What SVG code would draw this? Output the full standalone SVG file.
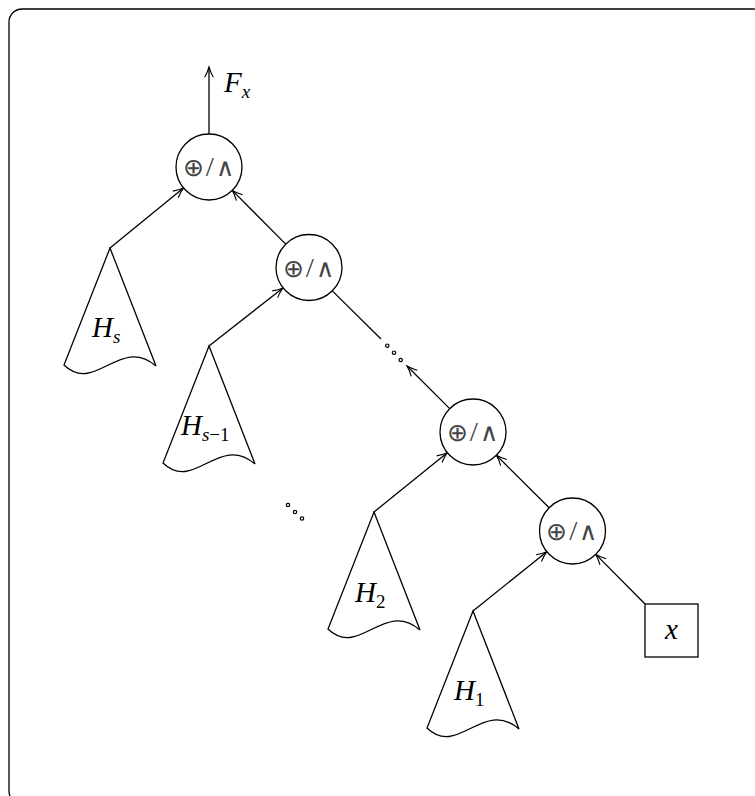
<svg xmlns="http://www.w3.org/2000/svg" xmlns:xlink="http://www.w3.org/1999/xlink" width="755" height="796" viewBox="0 0 755 796">
  <style>
    .ln { fill: none; stroke: #000; stroke-width: 1.3; }
    .op { fill: #fff; stroke: #000; stroke-width: 1.3; }
    .sym { font-family: "Noto Sans", "DejaVu Sans", sans-serif; font-weight: 300; font-size: 25px; fill: #444; text-anchor: middle; letter-spacing: 1.5px; }
    .lbl { font-family: "Liberation Serif", "DejaVu Serif", serif; font-style: italic; font-size: 29px; fill: #000; }
    .sub { font-size: 19px; }
    .up { font-style: normal; }
    .dot { fill: #fff; stroke: #000; stroke-width: 1.2; }
  </style>
  <defs>
    <marker id="arr" markerUnits="userSpaceOnUse" markerWidth="24" markerHeight="24" refX="0" refY="0" viewBox="-14 -12 28 24" orient="auto" overflow="visible">
      <path d="M -12 -5 Q -5.5 -1.5 0 0 Q -5.5 1.5 -12 5" fill="none" stroke="#000" stroke-width="1.3"/>
    </marker>
    <!-- subtree outline, apex at origin, wavy base -->
    <path id="tri" class="ln" d="M0,0 L46,118 C10,87 -15,147 -46,117 Z"/>
  </defs>

  <rect x="9" y="9" width="757" height="795" rx="13" fill="#fff" stroke="#000" stroke-width="1.3"/>

  <g id="connectors">
    <line class="ln" x1="209" y1="134" x2="209" y2="67" marker-end="url(#arr)"/>
    <line class="ln" x1="110" y1="248" x2="183.5" y2="187.9" marker-end="url(#arr)"/>
    <line class="ln" x1="285.7" y1="244.1" x2="232.3" y2="190.4" marker-end="url(#arr)"/>
    <line class="ln" x1="209" y1="346" x2="283" y2="287.9" marker-end="url(#arr)"/>
    <line class="ln" x1="332.3" y1="290.9" x2="381" y2="339"/>
    <line class="ln" x1="449.7" y1="408.6" x2="407" y2="366" marker-end="url(#arr)"/>
    <line class="ln" x1="374" y1="512" x2="447.3" y2="452.7" marker-end="url(#arr)"/>
    <line class="ln" x1="549.1" y1="507.7" x2="496.4" y2="455.3" marker-end="url(#arr)"/>
    <line class="ln" x1="473" y1="611" x2="546.8" y2="551.7" marker-end="url(#arr)"/>
    <line class="ln" x1="645" y1="604" x2="595.8" y2="554.4" marker-end="url(#arr)"/>
    <circle class="dot" cx="387.3" cy="345.7" r="1.7"/>
    <circle class="dot" cx="394" cy="352.7" r="1.7"/>
    <circle class="dot" cx="400.7" cy="360" r="1.7"/>
    <circle class="dot" cx="288" cy="505" r="1.7"/>
    <circle class="dot" cx="295" cy="512" r="1.7"/>
    <circle class="dot" cx="302" cy="518.5" r="1.7"/>
  </g>

  <text class="lbl" x="224" y="92">F<tspan class="sub" dy="6">x</tspan></text>

  <g id="op1">
    <circle class="op" cx="209" cy="167" r="33"/>
    <text class="sym" x="209" y="176">⊕/∧</text>
  </g>
  <g id="op2">
    <circle class="op" cx="309" cy="267.5" r="33"/>
    <text class="sym" x="309" y="276.5">⊕/∧</text>
  </g>
  <g id="op3">
    <circle class="op" cx="473" cy="432" r="33"/>
    <text class="sym" x="473" y="441">⊕/∧</text>
  </g>
  <g id="op4">
    <circle class="op" cx="572.5" cy="531" r="33"/>
    <text class="sym" x="572.5" y="540">⊕/∧</text>
  </g>

  <g id="Hs">
    <use xlink:href="#tri" x="110" y="248"/>
    <text class="lbl" x="92" y="337">H<tspan class="sub" dy="6">s</tspan></text>
  </g>
  <g id="Hs1">
    <use xlink:href="#tri" x="209" y="346"/>
    <text class="lbl" x="181" y="435">H<tspan class="sub" dy="6">s</tspan><tspan class="sub up">−1</tspan></text>
  </g>
  <g id="H2">
    <use xlink:href="#tri" x="374" y="512"/>
    <text class="lbl" x="355" y="602">H<tspan class="sub up" dy="6">2</tspan></text>
  </g>
  <g id="H1">
    <use xlink:href="#tri" x="473" y="611"/>
    <text class="lbl" x="454" y="700">H<tspan class="sub up" dy="6">1</tspan></text>
  </g>

  <g id="x">
    <rect class="op" x="645" y="604" width="53" height="53"/>
    <text class="lbl" x="671.5" y="639" text-anchor="middle">x</text>
  </g>
</svg>
